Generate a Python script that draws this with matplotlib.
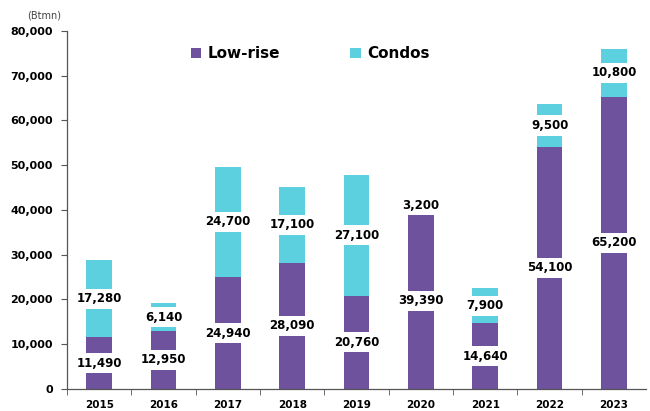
import numpy as np
import matplotlib.pyplot as plt
from matplotlib.ticker import FuncFormatter, MultipleLocator

years = ['2015', '2016', '2017', '2018', '2019', '2020', '2021', '2022', '2023']
lowrise = [11490, 12950, 24940, 28090, 20760, 39390, 14640, 54100, 65200]
condos = [17280, 6140, 24700, 17100, 27100, 3200, 7900, 9500, 10800]

purple = '#6f529e'
cyan = '#5dd0e0'

fig = plt.figure(figsize=(6.5, 4.11), dpi=100)
ax = fig.add_axes([0.103, 0.054, 0.891, 0.871])

x = np.arange(len(years))
ax.bar(x, lowrise, width=0.4, color=purple, label='Low-rise')
ax.bar(x, condos, width=0.4, bottom=lowrise, color=cyan, label='Condos')

# labels sit in white boxes that cut through the bars
box = dict(boxstyle='square,pad=0.3', fc='white', ec='none')
for i in range(len(years)):
    ax.text(x[i], lowrise[i] / 2, f'{lowrise[i]:,}', ha='center', va='center',
            fontsize=8.5, fontweight='bold', bbox=box)
    ax.text(x[i], lowrise[i] + condos[i] / 2, f'{condos[i]:,}', ha='center', va='center',
            fontsize=8.5, fontweight='bold', bbox=box)

ax.set_xlim(-0.5, len(years) - 0.5)
ax.set_ylim(0, 80000)
ax.yaxis.set_major_locator(MultipleLocator(10000))
ax.yaxis.set_major_formatter(FuncFormatter(lambda v, p: f'{int(v):,}'))
ax.set_xticks(x)
ax.set_xticklabels(years)
ax.set_xticks(np.arange(-0.5, len(years) - 0.5, 1), minor=True)
ax.tick_params(axis='x', which='major', length=0, pad=8, labelsize=7.5)
ax.tick_params(axis='x', which='minor', length=4, color='#555555', direction='out')
ax.tick_params(axis='y', length=4, color='#555555', labelsize=8, pad=6)
for lbl in ax.get_xticklabels() + ax.get_yticklabels():
    lbl.set_fontweight('bold')

for s in ['top', 'right']:
    ax.spines[s].set_visible(False)
for s in ['left', 'bottom']:
    ax.spines[s].set_color('#555555')
    ax.spines[s].set_linewidth(0.9)

fig.text(0.068, 0.962, '(Btmn)', fontsize=7, color='#444444', ha='center', va='center')

ax.legend(loc='upper center', bbox_to_anchor=(0.42, 0.995), ncol=2, frameon=False,
          prop={'weight': 'bold', 'size': 11}, handlelength=0.7, handleheight=0.7,
          columnspacing=4.6, handletextpad=0.4)

fig.savefig('out.png', dpi=100)
